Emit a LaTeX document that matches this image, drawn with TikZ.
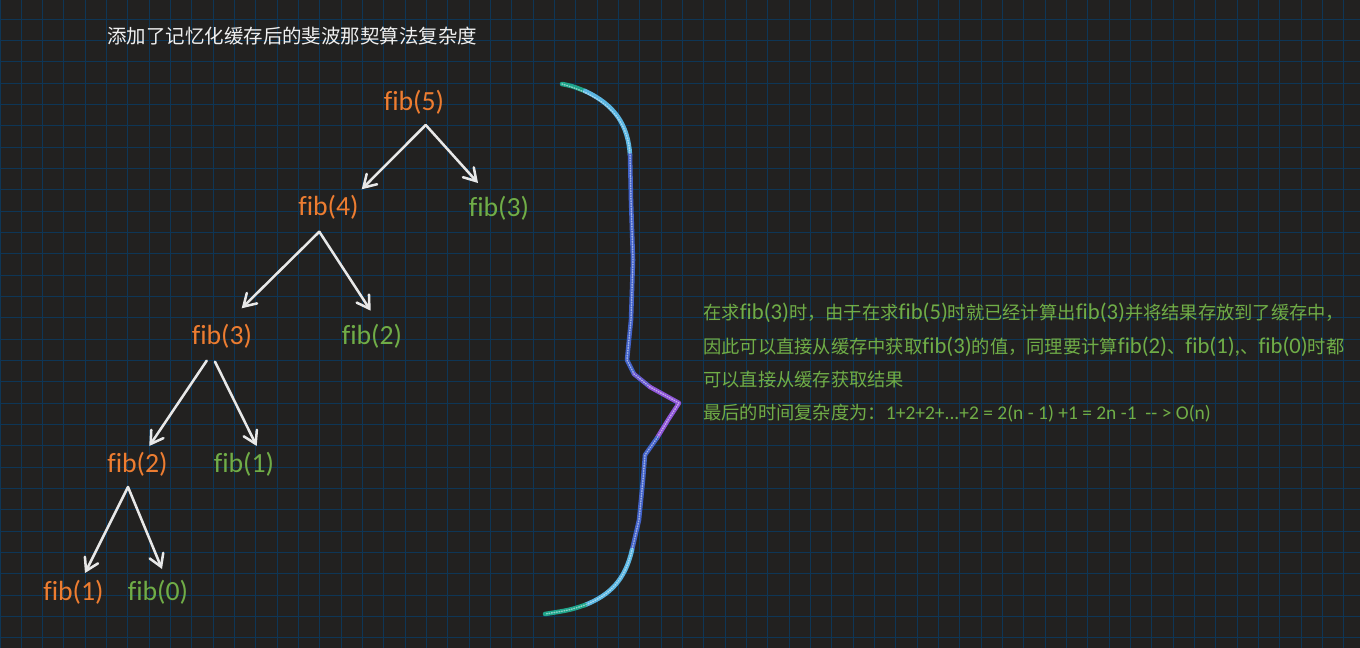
\documentclass[tikz,border=0pt]{standalone}
\usepackage{fontspec}
\setmainfont{Carlito}[Ligatures=NoCommon]
\newfontfamily\lat{Carlito}[Ligatures=NoCommon]
\newfontfamily\cjk{Noto Sans CJK SC}
\usetikzlibrary{arrows.meta,calc}
\definecolor{bgc}{HTML}{222120}
\definecolor{gridc}{HTML}{0E3656}
\definecolor{orangec}{HTML}{ED7D31}
\definecolor{greenc}{HTML}{70AD47}
\definecolor{arrowc}{HTML}{E8E8E8}
\definecolor{titlec}{HTML}{F0F0F0}
\definecolor{tealc}{HTML}{1FA58C}
\definecolor{lbluec}{HTML}{5BB6E2}
\definecolor{bluec}{HTML}{4262C8}
\definecolor{purplec}{HTML}{8E55D8}
\newcommand{\zhtext}[1]{{\cjk\fontsize{13.7pt}{14pt}\selectfont #1}}
\begin{document}
\begin{tikzpicture}[x=0.75pt,y=-0.75pt,
  gridline/.style={draw=gridc,line width=0.75pt},
  lab/.style={anchor=base,inner sep=0pt,font=\fontsize{20.8pt}{21pt}\selectfont},
  orangelab/.style={lab,text=orangec},
  greenlab/.style={lab,text=greenc},
  arr/.style={draw=arrowc,line width=1.9pt,line cap=round,-{Straight Barb[length=9pt,width=11pt,line cap=round]}},
  para/.style={anchor=base west,inner sep=0pt,text=greenc,font=\lat\fontsize{17pt}{17pt}\selectfont},
  bracepart/.style={line width=3.4pt,line cap=round,line join=round}]
\useasboundingbox (0,0) rectangle (1360,648);
\fill[bgc] (0,0) rectangle (1360,648);
\foreach \i in {0,...,63} \draw[gridline] (\i*21.333,0) -- (\i*21.333,648);
\foreach \j in {0,...,31} \draw[gridline] (0,-2+\j*21.333) -- (1360,-2+\j*21.333);

% title
\node[anchor=base west,inner sep=0pt,text=titlec,font=\cjk\fontsize{14.6pt}{15pt}\selectfont] (title) at (107,44) {添加了记忆化缓存后的斐波那契算法复杂度};

% tree labels
\node[orangelab] (f5) at (414,111) {fib(5)};
\node[orangelab] (f4) at (328.5,216) {fib(4)};
\node[greenlab]  (g3) at (499,217) {fib(3)};
\node[orangelab] (f3) at (222,345) {fib(3)};
\node[greenlab]  (g2) at (372,345) {fib(2)};
\node[orangelab] (f2) at (137.5,472) {fib(2)};
\node[greenlab]  (g1) at (244,472) {fib(1)};
\node[orangelab] (f1) at (73.5,600) {fib(1)};
\node[greenlab]  (g0) at (158,600) {fib(0)};

% connectors
\draw[arr] ($(f5.base)+(11.7,14)$) -- ($(f4.base)+(33.2,-26.7)$);
\draw[arr] ($(f5.base)+(11.7,14)$) -- ($(g3.base)+(-21,-34)$);
\draw[arr] ($(f4.base)+(-9.2,15.7)$) -- ($(f3.base)+(19.7,-36.7)$);
\draw[arr] ($(f4.base)+(-9.2,15.7)$) -- ($(g2.base)+(-1.3,-34.3)$);
\draw[arr] ($(f3.base)+(-15.3,15.7)$) -- ($(f2.base)+(11.8,-26)$);
\draw[arr] ($(f3.base)+(-7,16.7)$) -- ($(g1.base)+(12.7,-26)$);
\draw[arr] ($(f2.base)+(-9.5,15)$) -- ($(f1.base)+(11.5,-27)$);
\draw[arr] ($(f2.base)+(-9.5,15)$) -- ($(g0.base)+(4,-31)$);

% hand-drawn brace
\draw[bracepart,draw=tealc] (562,84) .. controls (572,86) .. (585,91);
\draw[bracepart,draw=lbluec] (585,91) .. controls (615,105) and (628,125) .. (630,155);
\draw[bracepart,draw=bluec] (630,155) -- (631,200) -- (633,260) -- (631,320) -- (627,360) -- (634,374);
\draw[bracepart,draw=bluec!50!purplec] (634,374) -- (650,387);
\draw[bracepart,draw=purplec] (650,387) -- (679,403) -- (668,420) -- (657,438);
\draw[bracepart,draw=bluec] (657,438) -- (645,455) -- (643,480) -- (639,520) -- (632,550);
\draw[bracepart,draw=lbluec] (632,550) .. controls (625,580) and (610,595) .. (585,605);
\draw[bracepart,draw=tealc] (585,605) .. controls (570,610) .. (545,614);
\draw[line width=1.1pt,draw=white,opacity=0.5,dash pattern=on 0.5pt off 1.4pt,line cap=round]
  (562,84) .. controls (600,95) and (628,115) .. (630,155) -- (631,200) -- (633,260) -- (631,320) -- (627,360) -- (634,374) -- (650,387) -- (679,403) -- (668,420) -- (657,438) -- (645,455) -- (643,480) -- (639,520) -- (632,550) .. controls (625,580) and (610,595) .. (585,605) .. controls (570,610) .. (545,614);

% explanation text
\node[para] (p1) at (703,320) {\zhtext{在求}fib(3)\zhtext{时，由于在求}fib(5)\zhtext{时就已经计算出}fib(3)\zhtext{并将结果存放到了缓存中，}};
\node[para] (p2) at (703,353.5) {\zhtext{因此可以直接从缓存中获取}fib(3)\zhtext{的值，同理要计算}fib(2)\zhtext{、}fib(1),\zhtext{、}fib(0)\zhtext{时都}};
\node[para] (p3) at (703,387) {\zhtext{可以直接从缓存获取结果}};
\node[para] (p4) at (703,420) {\zhtext{最后的时间复杂度为：}{\fontsize{14.6pt}{15pt}\selectfont 1+2+2+...+2 = 2(n - 1) +1 = 2n -1\ \ -- > O(n)}};
\end{tikzpicture}
\end{document}
